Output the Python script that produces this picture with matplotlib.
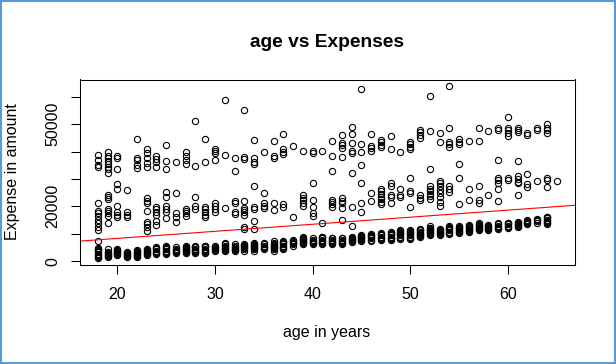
import numpy as np
import matplotlib
matplotlib.use("Agg")
import matplotlib.pyplot as plt
from matplotlib.patches import Rectangle

plt.rcParams['font.family'] = ['Liberation Sans', 'DejaVu Sans']

# expenses in thousands, grouped by age
# low band: the dense column of cheap policies
low_band = {
    18: [1.2, 1.6, 2.0, 2.4, 2.8, 3.2, 3.6, 4.0, 4.4, 4.7, 7.4],
    19: [1.5, 1.9, 2.3, 2.7, 3.1, 3.5, 4.6],
    20: [2.1, 2.5, 2.9, 3.3, 3.7, 4.1, 4.5],
    21: [1.5, 1.9, 2.3, 2.7, 3.1, 3.5],
    22: [1.5, 1.9, 2.3, 2.7, 3.1, 3.5, 3.8, 4.1],
    23: [2.1, 2.5, 2.9, 3.3, 3.7, 4.1, 4.5],
    24: [2.7, 3.1, 3.5, 3.9, 4.3, 4.7, 5.1],
    25: [2.7, 3.1, 3.5, 3.9, 4.3, 4.7, 5.1, 5.4],
    26: [2.9, 3.3, 3.7, 4.1, 4.5, 5.0],
    27: [2.9, 3.3, 3.7, 4.1, 4.5, 4.9, 5.3, 5.6],
    28: [3.0, 3.4, 3.8, 4.2, 4.6, 5.0, 5.3, 5.6],
    29: [3.0, 3.4, 3.8, 4.2, 4.6, 5.0, 5.4, 5.7],
    30: [3.7, 4.1, 4.5, 4.9, 5.3, 5.7],
    31: [3.7, 4.1, 4.5, 4.9, 5.3, 5.7, 6.1, 6.6],
    32: [3.7, 4.1, 4.5, 4.9, 5.3, 5.7, 6.2],
    33: [3.9, 4.3, 4.7, 5.1, 5.5, 5.9, 6.2],
    34: [3.9, 4.3, 4.7, 5.1, 5.5, 5.9, 6.3, 6.6],
    35: [4.5, 4.9, 5.3, 5.7, 6.1, 6.6],
    36: [3.9, 4.3, 4.7, 5.1, 5.5, 5.9, 6.3, 6.8, 7.2],
    37: [4.5, 4.9, 5.3, 5.7, 6.1, 6.5, 6.9, 7.2],
    38: [5.7, 6.1, 6.5, 6.9, 7.3, 7.8],
    39: [6.1, 6.5, 6.9, 7.3, 7.7, 8.1, 8.5, 8.8],
    40: [6.3, 6.7, 7.1, 7.5, 7.9, 8.4],
    41: [6.3, 6.7, 7.1, 7.5, 7.9, 8.3, 8.7, 9.0],
    42: [6.3, 6.7, 7.1, 7.5, 7.9, 8.3, 8.6],
    43: [6.3, 6.7, 7.1, 7.5, 7.9, 8.3, 8.6],
    44: [6.9, 7.3, 7.7, 8.1, 8.5, 9.0],
    45: [7.3, 7.7, 8.1, 8.5, 8.9, 9.3, 9.6],
    46: [7.5, 7.9, 8.3, 8.7, 9.1, 9.5, 10.0],
    47: [7.8, 8.2, 8.6, 9.0, 9.4, 9.8, 10.2],
    48: [7.8, 8.2, 8.6, 9.0, 9.4, 9.8, 10.2, 10.5],
    49: [8.2, 8.6, 9.0, 9.4, 9.8, 10.2, 10.6, 11.0, 11.4],
    50: [8.2, 8.6, 9.0, 9.4, 9.8, 10.2, 10.6, 11.0, 11.4],
    51: [8.8, 9.2, 9.6, 10.0, 10.4, 10.8, 11.2, 11.5, 11.8],
    52: [9.4, 9.8, 10.2, 10.6, 11.0, 11.4, 11.8, 12.2, 12.7],
    53: [9.4, 9.8, 10.2, 10.6, 11.0, 11.4, 11.8],
    54: [10.0, 10.4, 10.8, 11.2, 11.6, 12.0, 12.4, 12.7],
    55: [10.2, 10.6, 11.0, 11.4, 11.8, 12.2, 12.6, 12.9],
    56: [10.5, 10.9, 11.3, 11.7, 12.1, 12.5, 12.9, 13.3],
    57: [11.2, 11.6, 12.0, 12.4, 12.8, 13.2, 13.6, 13.9],
    58: [11.4, 11.8, 12.2, 12.6, 13.0, 13.3],
    59: [11.8, 12.2, 12.6, 13.0, 13.4, 13.9],
    60: [12.2, 12.6, 13.0, 13.4, 13.8, 14.1],
    61: [12.4, 12.8, 13.2, 13.6, 14.0, 14.2],
    62: [13.6, 14.0, 14.4, 14.8, 15.1],
    63: [14.1, 14.5, 14.9, 15.3],
    64: [13.6, 14.0, 14.4, 14.8, 15.2, 15.6, 16.0, 16.3],
}

# middle band (roughly 11k - 37k)
mid_band = {
    18: [21.4, 18.3, 17.4, 16.6, 15.0, 13.8, 12.5, 11.3],
    19: [24.3, 23.5, 22.6, 19.2, 18.3, 17.4, 16.6, 14.0],
    20: [28.0, 26.5, 20.1, 18.0, 17.0, 16.2],
    21: [25.9, 18.0, 17.0, 16.2],
    23: [22.9, 22.0, 21.1, 18.3, 14.4, 13.5, 12.5, 11.1],
    24: [19.6, 18.9, 18.0, 16.8, 14.7, 13.1],
    25: [25.3, 23.5, 20.1, 18.9, 18.0, 15.6],
    26: [24.7, 17.4, 16.2, 14.4],
    27: [19.2, 18.3, 17.4, 16.4],
    28: [23.3, 20.1, 19.0],
    29: [19.8, 18.9, 18.0, 17.0, 16.1],
    30: [21.1, 20.1, 19.1, 18.1],
    31: [19.4],
    32: [21.9, 21.1, 18.0, 17.2],
    33: [22.0, 19.5, 18.6, 17.8, 16.8, 12.5, 11.6],
    34: [27.4, 19.8, 19.0, 14.7, 11.7],
    35: [24.7, 21.1, 20.2, 19.4],
    36: [21.1, 18.6],
    37: [20.7, 19.8],
    38: [16.2],
    39: [24.1, 23.1, 22.3, 21.3, 20.1],
    40: [28.4, 22.5, 19.8, 17.4, 16.4],
    41: [13.8],
    42: [33.0, 22.5, 21.7, 20.8, 19.8],
    43: [22.9, 22.0, 21.1, 19.5, 15.0],
    44: [32.2, 19.7, 12.8],
    45: [28.4, 21.1, 17.9],
    46: [24.7, 22.0],
    47: [26.5, 25.6, 24.6, 23.6, 22.6, 21.7, 20.7],
    48: [28.6, 27.4, 24.1, 23.5, 21.3],
    49: [26.5, 24.3, 23.5],
    50: [30.2, 25.6, 24.7, 19.7],
    51: [24.1, 23.1, 22.2],
    52: [33.5, 27.4, 26.5, 25.6, 24.6, 23.7, 22.8],
    53: [29.3, 28.4, 27.4, 25.9, 24.7, 23.3, 21.7, 20.2],
    54: [27.4, 26.2, 25.1],
    55: [35.4, 30.2, 20.7],
    56: [26.2, 22.5],
    57: [27.6, 22.3, 21.4],
    58: [24.3],
    59: [36.8, 30.4, 29.6, 28.4, 26.2, 21.9],
    60: [30.4, 29.6],
    61: [36.5, 31.2, 30.0, 29.0, 28.4, 24.3],
    62: [31.7, 28.1, 27.1],
    63: [29.3],
    64: [30.4, 29.6, 26.9],
    65: [29.2],
}

# top band and outliers
high_band = {
    18: [38.7, 36.9, 35.2, 34.3],
    19: [39.7, 38.5, 37.5, 36.5, 35.5, 34.5, 33.5, 32.3],
    20: [38.3, 37.5, 33.5],
    22: [44.4, 37.7, 36.9, 35.0, 34.1],
    23: [40.9, 39.3, 37.5, 35.9, 34.2],
    24: [38.3, 37.3, 36.3, 34.2],
    25: [42.4, 36.5, 33.8],
    26: [36.3],
    27: [39.9, 38.3, 36.9, 35.4],
    28: [51.1, 34.9],
    29: [44.6, 36.2],
    30: [41.1, 40.3, 39.3, 36.9],
    31: [58.8, 38.7],
    32: [37.5, 32.9],
    33: [55.2, 38.1, 37.3],
    34: [44.2, 37.7, 36.3, 35.4],
    35: [39.9],
    36: [43.8, 38.3, 37.7],
    37: [46.4, 40.8, 39.9, 39.1],
    38: [42.0],
    39: [40.2],
    40: [40.2, 39.3],
    41: [40.2],
    42: [43.8, 38.3],
    43: [46.0, 43.2, 42.4, 41.4, 37.9],
    44: [48.9, 46.4, 43.1, 40.1, 39.3],
    45: [62.8, 42.6, 39.8, 35.1],
    46: [46.4, 42.2, 41.3, 40.3],
    47: [44.2, 43.3, 42.4, 41.5],
    48: [45.7, 40.8],
    49: [39.8],
    50: [43.6, 42.7, 41.8, 40.9],
    51: [47.8, 47.0, 46.0, 44.8],
    52: [60.4, 47.5],
    53: [46.9, 43.5],
    54: [63.9, 48.5, 43.6, 42.6, 41.8],
    55: [44.6, 43.6, 42.6],
    56: [44.0],
    57: [48.7, 43.8],
    58: [47.6],
    59: [48.7, 47.8],
    60: [52.6, 48.7, 47.8, 46.9, 45.7],
    61: [48.7, 47.8, 47.0],
    62: [46.9, 46.0],
    63: [48.7, 47.8],
    64: [49.9, 48.7, 47.8, 46.9],
}

# lm(expenses ~ age) line
fit_intercept = 3166
fit_slope = 257.7

x_ticks = [20, 30, 40, 50, 60]
y_ticks = [0, 10000, 20000, 30000, 40000, 50000, 60000]
y_tick_labels = ['0', '', '20000', '', '', '50000', '']

ages = []
expenses = []
for band in (low_band, mid_band, high_band):
    for age, vals in band.items():
        for v in vals:
            ages.append(age)
            expenses.append(v * 1000)

fig = plt.figure(figsize=(6.16, 3.64), dpi=100)
ax = fig.add_axes([79.5 / 616, 1 - 265 / 364, (575 - 79.5) / 616, (265 - 79.5) / 364])

ax.plot(ages, expenses, linestyle='none', marker='o', markersize=4.5,
        markerfacecolor='none', markeredgecolor='black', markeredgewidth=0.8)

xlim = (16.12, 66.88)
ax.set_xlim(xlim)
ax.set_ylim(-1385, 66276)
xs = np.array(xlim)
ax.plot(xs, fit_intercept + fit_slope * xs, color='red', linewidth=0.8)

ax.set_xticks(x_ticks)
ax.set_xticklabels([str(t) for t in x_ticks])
ax.set_yticks(y_ticks)
ax.set_yticklabels(y_tick_labels, rotation=90, va='center')
ax.tick_params(axis='both', direction='out', length=6.3, width=0.75,
               labelsize=11.5, color='black')
ax.tick_params(axis='x', pad=9.5)
ax.tick_params(axis='y', pad=7.5)
for s in ax.spines.values():
    s.set_linewidth(0.75)

fig.text(327 / 616, 1 - 47.3 / 364, 'age vs Expenses', ha='center', va='baseline',
         fontsize=13.8, fontweight='bold')
fig.text(327 / 616, 1 - 337 / 364, 'age in years', ha='center', va='baseline',
         fontsize=11.5)
fig.text(17.3 / 616, 1 - 172 / 364, 'Expense in amount', ha='center', va='baseline',
         rotation=90, rotation_mode='anchor', fontsize=11.5)

# window frame around the picture
fig.patches.append(Rectangle((0.001, 0.002), 0.997, 0.995, transform=fig.transFigure,
                             fill=False, edgecolor='#5b9bd5', linewidth=1.5))

plt.savefig('out.png', dpi=100)
